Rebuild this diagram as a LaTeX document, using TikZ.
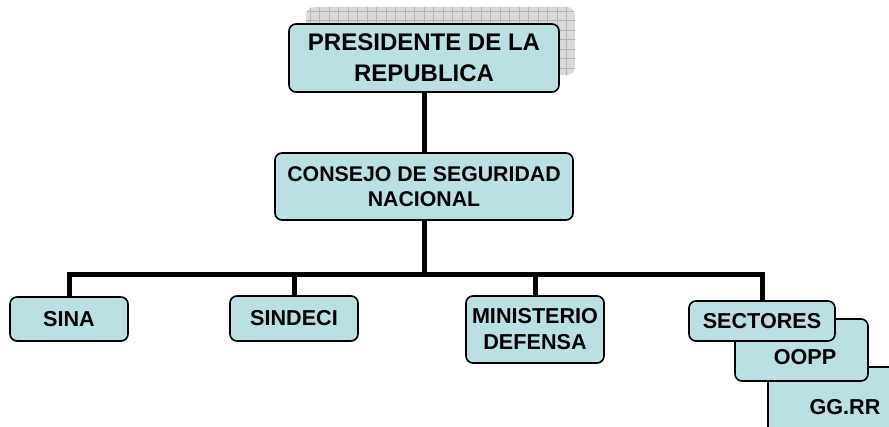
\documentclass[tikz,border=0pt]{standalone}
\usepackage{fontspec}
\setmainfont{Liberation Sans}
\usepackage{tikz}
\definecolor{cajafill}{RGB}{186,224,227}
\begin{document}
\begin{tikzpicture}[x=1pt,y=-1pt,
caja/.style={draw=black, line width=1.6pt, fill=cajafill, rounded corners=7pt,
    align=center, inner sep=0pt, font=\fontsize{21.6}{26}\selectfont\bfseries},
texto/.style={inner sep=0pt, font=\fontsize{21.6}{26}\selectfont\bfseries},
linea/.style={line width=5pt, black}]
\useasboundingbox (0,0) rectangle (889,426);
% sombra de la caja superior
\begin{scope}
\clip[rounded corners=8pt] (306,7) rectangle (575,75);
\fill[gray!30] (306,7) rectangle (575,75);
\foreach \gx in {310,319.5,...,575} \draw[gray!60, line width=0.7pt] (\gx,0) -- (\gx,80);
\foreach \gy in {11,20.5,...,75} \draw[gray!60, line width=0.7pt] (300,\gy) -- (580,\gy);
\end{scope}
\node[caja, minimum width=270pt, minimum height=68pt,
    font=\fontsize{24}{31}\selectfont\bfseries] (pres) at (424,58) {PRESIDENTE DE LA\\REPUBLICA};
\node[caja, minimum width=298pt, minimum height=67pt,
    font=\fontsize{21.3}{25}\selectfont\bfseries] (consejo) at (424,186.5) {CONSEJO DE SEGURIDAD\\NACIONAL};
\node[caja, minimum width=118pt, minimum height=44pt] (sina) at (69,319) {SINA};
\node[caja, minimum width=128pt, minimum height=45pt] (sindeci) at (294,318.5) {SINDECI};
\node[caja, minimum width=138pt, minimum height=67pt] (ministerio) at (535,329.5) {MINISTERIO\\DEFENSA};
% sectores apilados
\begin{scope}
\clip (0,0) rectangle (889,426);
\node[caja, minimum width=137pt, minimum height=73pt] (ggrr) at (836.5,403.5) {};
\end{scope}
\node[texto] (ggrrtxt) at (845,407) {GG.RR};
\node[caja, minimum width=133pt, minimum height=62pt] (oopp) at (801.5,350) {};
\node[texto] (oopptxt) at (805,357) {OOPP};
\node[caja, minimum width=146pt, minimum height=40pt] (sectores) at (762,321) {SECTORES};
% conectores
\coordinate (bus) at (424,274);
\draw[linea] (pres.south) -- (consejo.north);
\draw[linea] (consejo.south) -- (bus);
\draw[linea] (sina.north) |- (bus);
\draw[linea] (sindeci.north) |- (bus);
\draw[linea] (ministerio.north) |- (bus);
\draw[linea] (sectores.north) |- (bus);
\end{tikzpicture}
\end{document}
